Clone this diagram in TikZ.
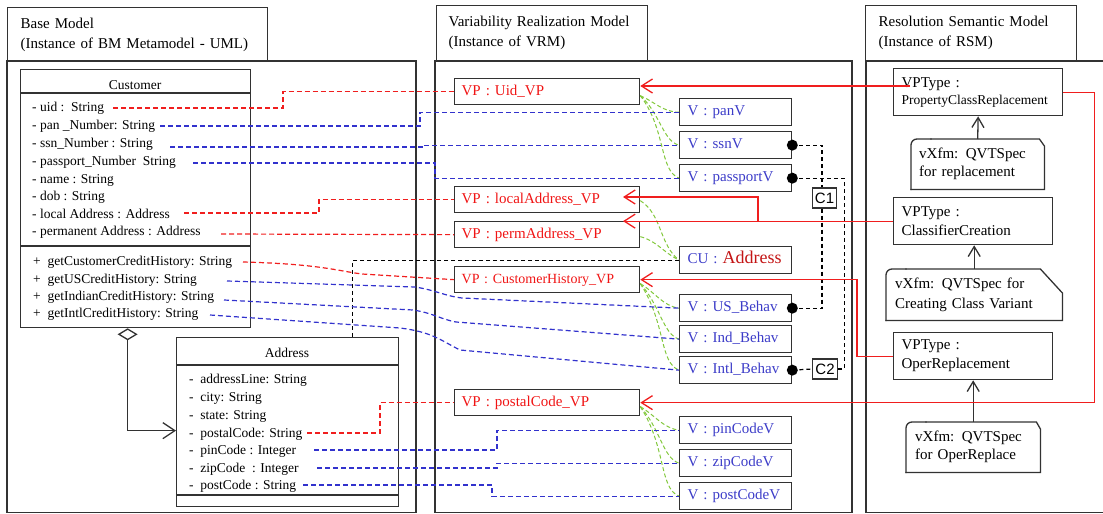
\documentclass[tikz,border=0pt]{standalone}
\usepackage{fontspec}
\setmainfont{Liberation Serif}
\newfontfamily\cfont{Liberation Sans}
\usetikzlibrary{arrows.meta}
\definecolor{edgegray}{RGB}{50,50,50}
\definecolor{vpred}{RGB}{240,20,20}
\definecolor{vblue}{RGB}{60,60,200}
\definecolor{linkblue}{RGB}{50,50,205}
\definecolor{linkred}{RGB}{240,30,30}
\definecolor{varlink}{RGB}{130,200,60}
\definecolor{cured}{RGB}{195,20,20}
\newcommand\ftl{\fontsize{15}{20}\selectfont}
\newcommand\fat{\fontsize{13.5}{17}\selectfont}
\begin{document}
\begin{tikzpicture}[x=1pt,y=-1pt,
  frame/.style={draw=edgegray, line width=1.3pt},
  titlebox/.style={frame, anchor=north west, align=left, font=\ftl, inner ysep=0pt},
  clsbox/.style={frame, anchor=north west, inner sep=0pt},
  clsname/.style={font=\fat, inner sep=0pt},
  attr/.style={anchor=west, inner sep=0pt, font=\fat, text height=9.5pt, text depth=3pt},
  vpbox/.style={frame, anchor=north west, align=left, text width=171pt, inner xsep=7pt, inner ysep=0pt,
    minimum height=26pt, text height=10.5pt, text depth=3.5pt, text=vpred, font=\ftl},
  vbox/.style={frame, anchor=north west, align=left, text width=96pt, inner xsep=8pt, inner ysep=0pt,
    minimum height=27pt, text height=10.5pt, text depth=3.5pt, text=vblue, font=\ftl},
  typebox/.style={frame, anchor=north west, align=left, inner xsep=8pt, inner ysep=0pt,
    minimum height=47pt, font=\fontsize{15}{19}\selectfont},
  notebox/.style={anchor=north west, align=left, inner ysep=0pt},
  noteline/.style={frame, line cap=rect},
  ctag/.style={frame, line width=1.1pt, fill=white, inner xsep=2.5pt, inner ysep=0pt,
    minimum height=20pt, font=\cfont\fontsize{15}{18}\selectfont},
  bmlink/.style={dash pattern=on 5pt off 3pt, line width=1.2pt},
  redlink/.style={bmlink, draw=linkred},
  bluelink/.style={bmlink, draw=linkblue},
  varline/.style={draw=varlink, dash pattern=on 4pt off 2.5pt, line width=1pt},
  grp/.style={draw=black, dash pattern=on 4pt off 3pt, line width=1.2pt},
  rsolid/.style={draw=linkred, line width=1.3pt},
  barb/.style={-{Straight Barb[length=11pt,width=14pt]}},
  upbarb/.style={-{Straight Barb[length=10pt,width=12pt]}}
]
\useasboundingbox (0,0) rectangle (1103,514);

% ---------- panels ----------
\draw[frame] (7,61) rectangle (416,512.5);
\draw[frame] (435,61) rectangle (852,512.5);
\draw[frame] (1104,61) -- (866,61) -- (866,512.5) -- (1104,512.5);
\node[titlebox, minimum width=260pt, minimum height=54pt, text width=234pt, inner xsep=13pt] (bmtitle) at (7,7)
  {Base Model\\(Instance of BM Metamodel - UML)};
\node[titlebox, minimum width=211pt, minimum height=55pt, text width=187pt, inner xsep=12pt] (vrmtitle) at (436,5)
  {Variability Realization Model\\(Instance of VRM)};
\node[titlebox, minimum width=211pt, minimum height=55pt, text width=185pt, inner xsep=13pt] (rsmtitle) at (865,5)
  {Resolution Semantic Model\\(Instance of RSM)};

% ---------- base model: Customer ----------
\node[clsbox, minimum width=230pt, minimum height=258pt] (cust) at (20,69) {};
\node[clsname] (custname) at (135,85) {Customer};
\draw[frame] (20,93) -- (250,93);
\draw[frame] (20,246) -- (250,246);
\node[attr] (a1) at (32,108) {- uid :\ \ String};
\node[attr] (a2) at (32,126) {- pan \_Number: String};
\node[attr] (a3) at (32,144) {- ssn\_Number : String};
\node[attr] (a4) at (32,162) {- passport\_Number\ \ String};
\node[attr] (a5) at (32,180) {- name : String};
\node[attr] (a6) at (32,197) {- dob : String};
\node[attr] (a7) at (32,215) {- local Address : Address};
\node[attr] (a8) at (32,232) {- permanent Address : Address};
\node[attr] (m1) at (33,262) {+\ \ getCustomerCreditHistory: String};
\node[attr] (m2) at (33,280) {+\ \ getUSCreditHistory: String};
\node[attr] (m3) at (33,297) {+\ \ getIndianCreditHistory: String};
\node[attr] (m4) at (33,314) {+\ \ getIntlCreditHistory: String};

% ---------- base model: Address ----------
\node[clsbox, minimum width=222pt, minimum height=169pt] (addr) at (176,337) {};
\node[clsname] (addrname) at (287,353) {Address};
\draw[frame] (176,365) -- (398,365);
\draw[frame] (176,495) -- (398,495);
\node[attr] (d1) at (189,380) {-\ \ addressLine: String};
\node[attr] (d2) at (189,398) {-\ \ city: String};
\node[attr] (d3) at (189,416) {-\ \ state: String};
\node[attr] (d4) at (189,434) {-\ \ postalCode: String};
\node[attr] (d5) at (189,451) {-\ \ pinCode : Integer};
\node[attr] (d6) at (189,469) {-\ \ zipCode\ \ : Integer};
\node[attr] (d7) at (189,486) {-\ \ postCode : String};

\draw[frame, {Diamond[open,length=12pt,width=20pt]}-{Straight Barb[length=12pt,width=16pt]}]
  ([xshift=-8pt]cust.south) |- ([yshift=-8.5pt]addr.west);

% ---------- variability realization model ----------
\node[vpbox] (uidvp) at (454,78) {VP : Uid\_VP};
\node[vpbox] (locvp) at (454,186) {VP : localAddress\_VP};
\node[vpbox] (permvp) at (454,221) {VP : permAddress\_VP};
\node[vpbox, font=\fontsize{14}{17}\selectfont] (chvp) at (454,266) {VP : CustomerHistory\_VP};
\node[vpbox] (pcvp) at (454,389) {VP : postalCode\_VP};

\node[vbox] (panv) at (679,98) {V : panV};
\node[vbox] (ssnv) at (679,131) {V : ssnV};
\node[vbox] (passv) at (679,164) {V : passportV};
\node[vbox] (cu) at (679,246) {CU : \textcolor{cured}{\fontsize{18}{20}\selectfont Address}};
\node[vbox] (usb) at (679,294) {V : US\_Behav};
\node[vbox] (indb) at (679,325) {V : Ind\_Behav};
\node[vbox] (intlb) at (679,356) {V : Intl\_Behav};
\node[vbox] (pinv) at (679,416) {V : pinCodeV};
\node[vbox] (zipv) at (679,449) {V : zipCodeV};
\node[vbox] (postv) at (679,482) {V : postCodeV};

% variation point to variant links
\coordinate (uo) at ([yshift=-4pt]uidvp.east);
\draw[varline] (uo) .. controls +(14,6) and +(-16,0) .. (panv.west);
\draw[varline] (uo) .. controls +(20,18) and +(-16,-4) .. (ssnv.west);
\draw[varline] (uo) .. controls +(26,34) and +(-20,-8) .. (passv.west);
\coordinate (lo) at ([yshift=-1pt]locvp.east);
\draw[varline] (lo) .. controls +(22,14) and +(-20,-16) .. (cu.west);
\coordinate (po) at ([yshift=-2pt]permvp.east);
\draw[varline] (po) .. controls +(16,4) and +(-16,-8) .. (cu.west);
\coordinate (co) at ([yshift=-4pt]chvp.east);
\draw[varline] (co) .. controls +(14,8) and +(-16,-2) .. (usb.west);
\draw[varline] (co) .. controls +(20,22) and +(-16,-5) .. (indb.west);
\draw[varline] (co) .. controls +(26,40) and +(-20,-8) .. (intlb.west);
\coordinate (pco) at ([yshift=-4pt]pcvp.east);
\draw[varline] (pco) .. controls +(14,8) and +(-16,-2) .. (pinv.west);
\draw[varline] (pco) .. controls +(20,22) and +(-16,-5) .. (zipv.west);
\draw[varline] (pco) .. controls +(26,40) and +(-20,-8) .. (postv.west);

% constraint groups
\node[ctag] (c1) at (824.5,198) {C1};
\node[ctag] (c2) at (825,369) {C2};
\draw[grp] (ssnv.east) -| ([xshift=-2.5pt]c1.north);
\draw[grp] ([xshift=-2.5pt]c1.south) |- (usb.east);
\draw[grp] (passv.east) -- ++(52,0) |- (c2.east);
\draw[grp] (intlb.east) -- (c2.west);
\fill (ssnv.east) circle (5.5pt);
\fill (passv.east) circle (5.5pt);
\fill (usb.east) circle (5.5pt);
\fill (intlb.east) circle (5.5pt);

% class unit to its base class
\draw[grp] (cu.west) -| ([xshift=65pt]addr.north);

% ---------- base model to VRM links ----------
\coordinate (s-uid) at (113,108);
\coordinate (s-pan) at (160,126);
\coordinate (s-ssn) at (170,147);
\coordinate (s-pass) at (193,163);
\coordinate (s-loc) at (184,213);
\coordinate (s-perm) at (221,234);
\coordinate (s-gch) at (243,262);
\coordinate (s-gus) at (227,281);
\coordinate (s-gin) at (224,300);
\coordinate (s-gint) at (210,315);
\coordinate (s-postal) at (307,433);
\coordinate (s-pin) at (314,450);
\coordinate (s-zip) at (317,468);
\coordinate (s-post) at (303,485);

\draw[redlink] (s-uid) -- ++(170,0) |- (uidvp.west);
\draw[redlink] (s-loc) -- ++(135,0) |- (locvp.west);
\draw[redlink] (s-perm) -- (permvp.west);
\draw[redlink] (s-gch) .. controls (320,264) and (338,271) .. (362,274) -- (chvp.west);
\draw[redlink] (s-postal) -- ++(73,0) |- (pcvp.west);

\draw[bluelink] (s-pan) -- ++(260,0) |- (panv.west);
\draw[bluelink] (s-ssn) -- ++(254,0) |- (ssnv.west);
\draw[bluelink] (s-pass) -- ++(242,0) |- (passv.west);
\draw[bluelink] (s-gus) -- (415,287) .. controls (435,290) and (445,296) .. (462,298) -- (usb.west);
\draw[bluelink] (s-gin) -- (413,310) .. controls (433,313) and (440,319) .. (456,322) -- (indb.west);
\draw[bluelink] (s-gint) -- (400,328) .. controls (432,332) and (440,340) .. (460,350) -- (intlb.west);
\draw[bluelink] (s-pin) -- ++(183,0) |- (pinv.west);
\draw[bluelink] (s-zip) -- ++(180,0) |- (zipv.west);
\draw[bluelink] (s-post) -- ++(189,0) |- (postv.west);

% ---------- resolution semantic model ----------
\node[typebox, text width=153pt, font=\fontsize{15}{17}\selectfont] (pcr) at (893,68)
  {VPType :\\{\fat PropertyClassReplacement}};
\node[typebox, text width=143pt] (cc) at (893,197) {VPType :\\ClassifierCreation};
\node[typebox, text width=143pt] (orr) at (893,332) {VPType :\\OperReplacement};

\node[notebox, minimum width=133pt, minimum height=50pt, text width=117pt, inner xsep=8pt,
  font=\fontsize{15}{18}\selectfont] (n1) at (911,139) {vXfm: QVTSpec\\for replacement};
\node[notebox, minimum width=176pt, minimum height=51pt, text width=158pt, inner xsep=9pt,
  font=\fontsize{15}{20}\selectfont] (n2) at (886,269) {vXfm: QVTSpec for\\Creating Class Variant};
\node[notebox, minimum width=134pt, minimum height=50pt, text width=116pt, inner xsep=9pt,
  font=\fontsize{15}{18}\selectfont] (n3) at (906,422) {vXfm: QVTSpec\\for OperReplace};

\draw[noteline, rounded corners=6pt] (n1.south west) -- (n1.north west) -- ([xshift=20pt]n1.north west);
\draw[noteline] ([xshift=20pt]n1.north west) -- ([xshift=-5pt]n1.north east) -- ([yshift=-7pt]n1.north east)
  -- (n1.south east) -- (n1.south west);
\draw[noteline, rounded corners=6pt] (n2.south west) -- (n2.north west) -- ([xshift=20pt]n2.north west);
\draw[noteline] ([xshift=20pt]n2.north west) -- ([xshift=-22pt]n2.north east) -- ([yshift=-24pt]n2.north east)
  -- (n2.south east) -- (n2.south west);
\draw[noteline, rounded corners=6pt] (n3.south west) -- (n3.north west) -- ([xshift=20pt]n3.north west);
\draw[noteline] ([xshift=20pt]n3.north west) -- ([xshift=-4pt]n3.north east) -- ([yshift=-7pt]n3.north east)
  -- (n3.south east) -- (n3.south west);

\draw[frame, upbarb] (n1.north) -- (pcr.south);
\draw[frame, upbarb] (n2.north) -- (n2.north |- cc.south);
\draw[frame, upbarb] (n3.north) -- (n3.north |- orr.south);

% ---------- resolution links ----------
\coordinate (pcrin) at (910,86);
\coordinate (patip) at (623,221);
\coordinate (latip) at (623,197);
\coordinate (ccbr) at (758,221);
\draw[rsolid, barb] (pcrin) -- (uidvp.east |- pcrin);
\draw[rsolid, barb] (pcr.east) -- ++(31,0) |- (pcvp.east);
\draw[rsolid, barb] (cc.west) -- (cc.west -| patip);
\draw[rsolid, barb] (cc.west -| ccbr) |- (latip);
\draw[rsolid, barb] (orr.west) -- ++(-36,0) |- (chvp.east);
\end{tikzpicture}
\end{document}
